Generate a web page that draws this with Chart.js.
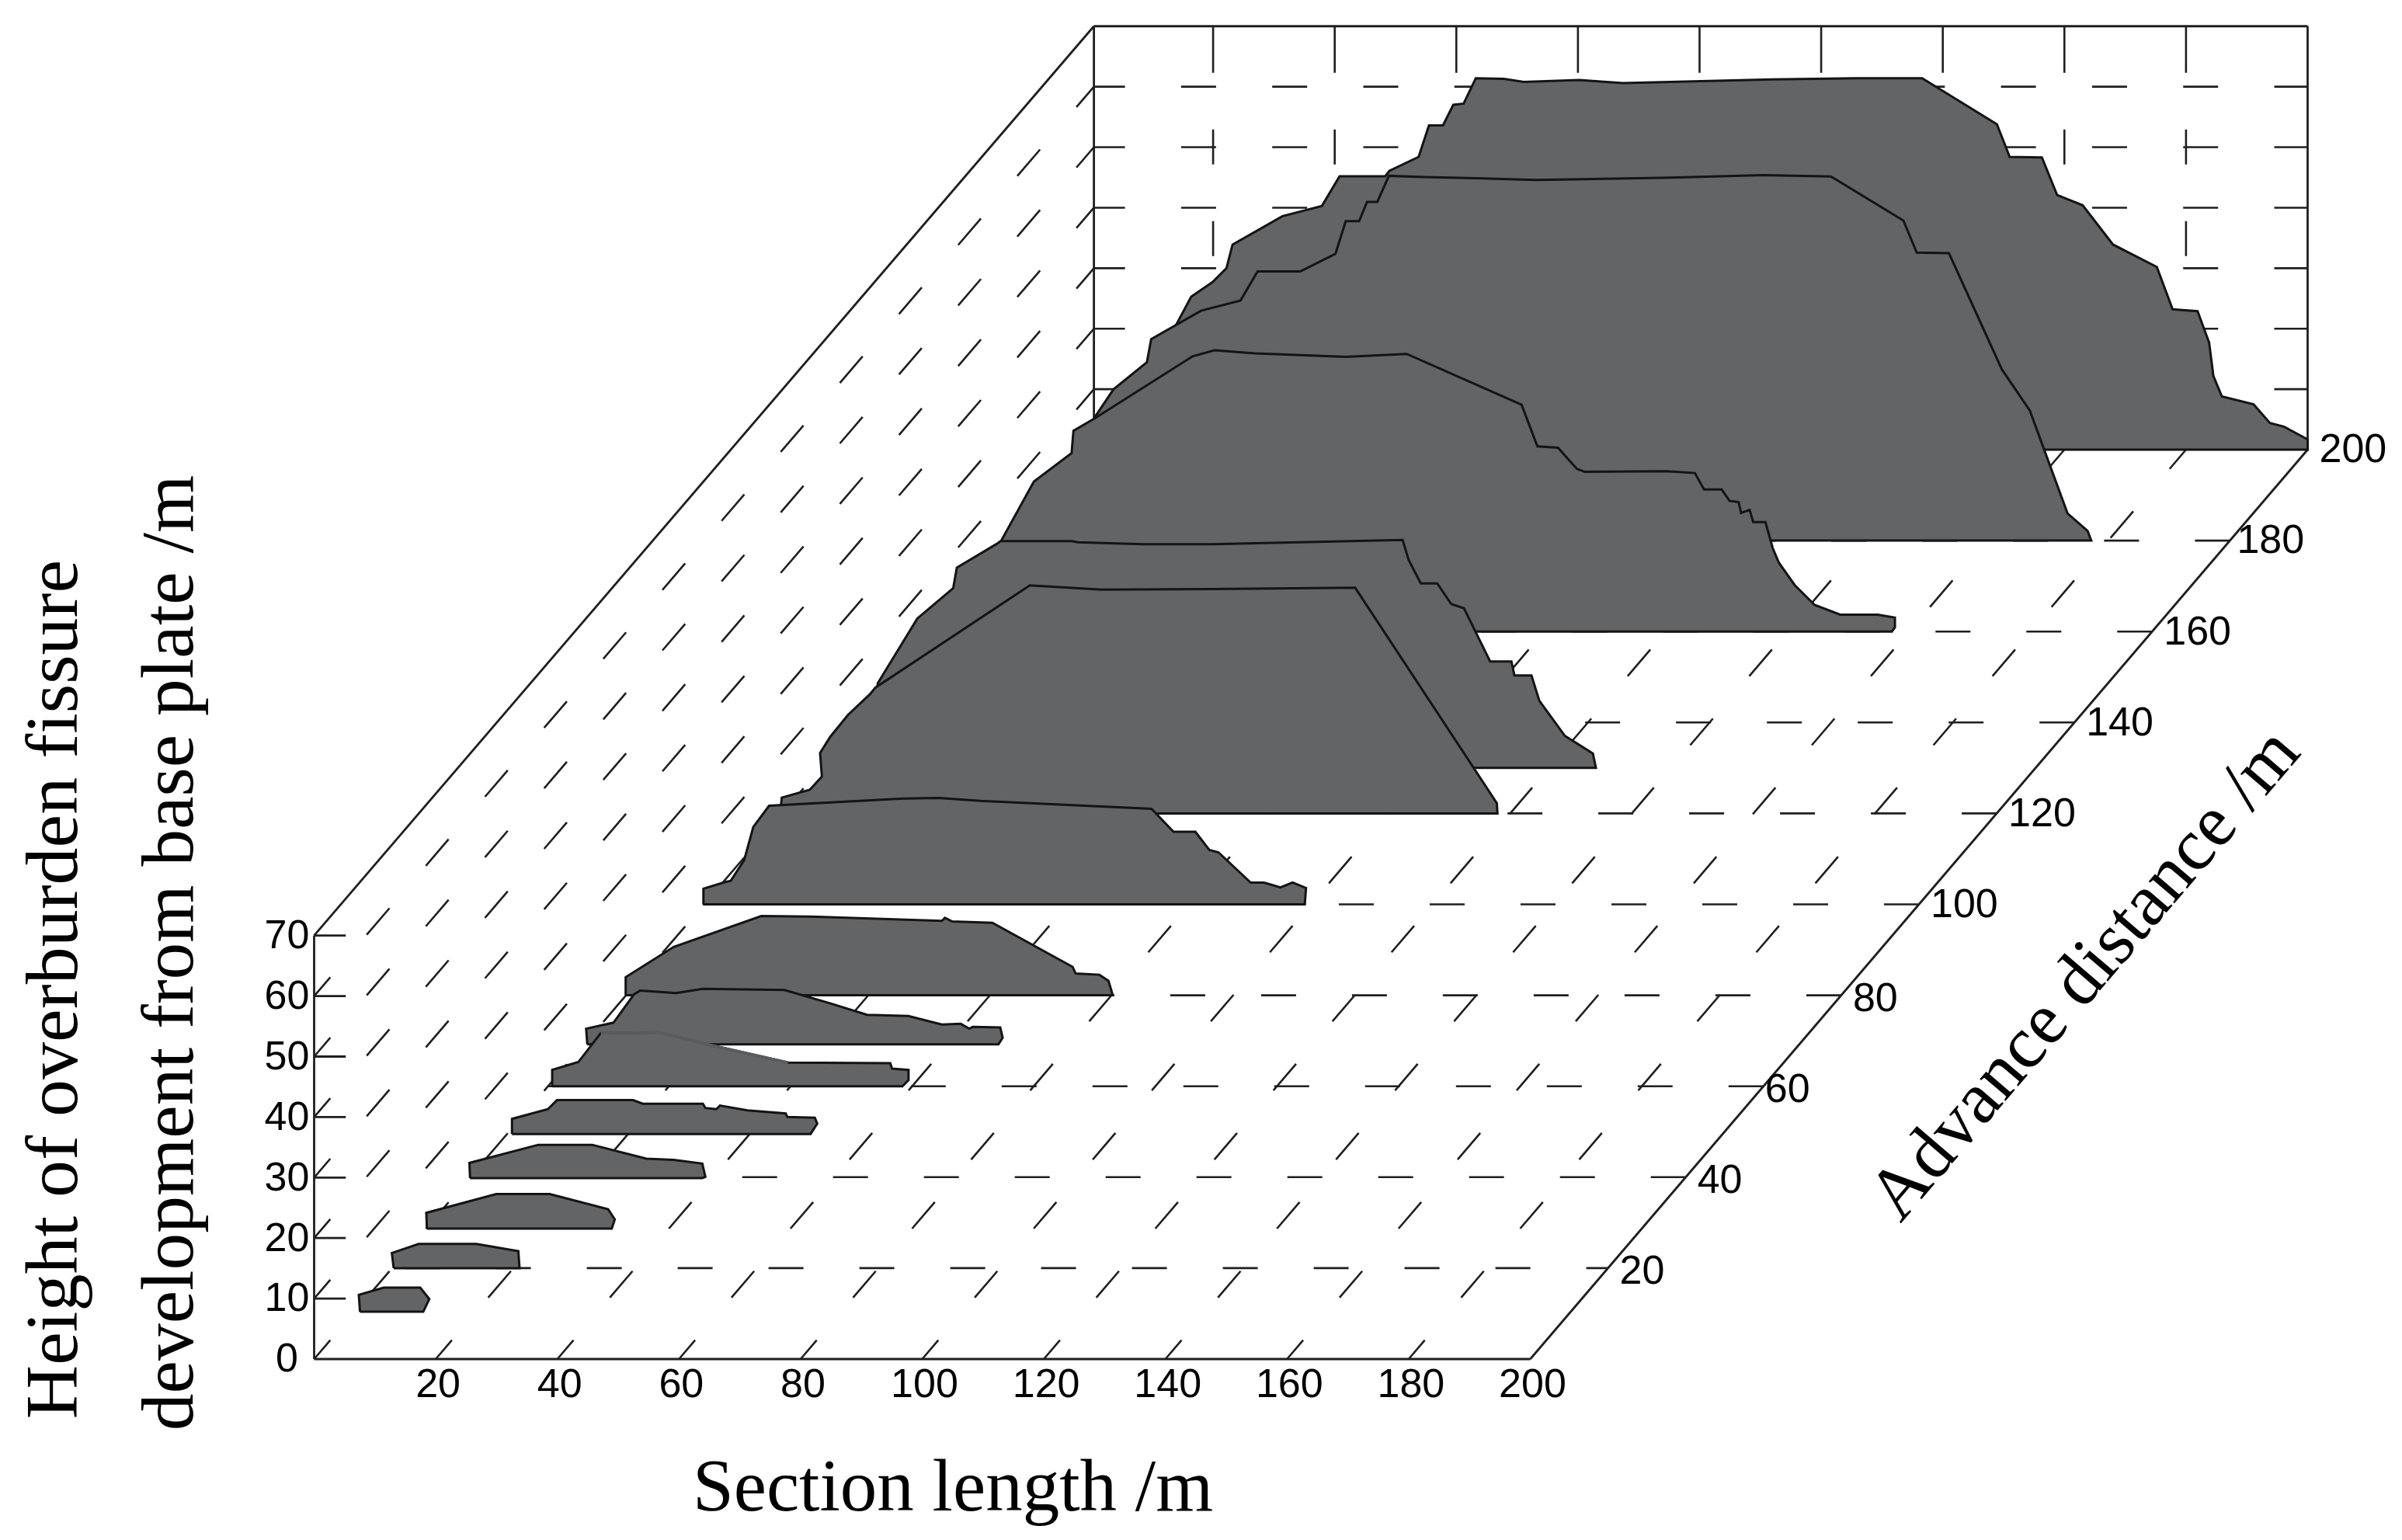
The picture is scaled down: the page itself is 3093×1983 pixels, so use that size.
<!DOCTYPE html>
<html>
<head>
<meta charset="utf-8">
<script src="https://cdn.jsdelivr.net/npm/chart.js@4"></script>
<style>
  body { margin: 0; background: #fff; }
  canvas { display: block; }
</style>
</head>
<body>
<canvas id="fissureChart" width="3093" height="1983"></canvas>
<script>
// tick labels
const sectionTicks = [20, 40, 60, 80, 100, 120, 140, 160, 180, 200];
const advanceTicks = [20, 40, 60, 80, 100, 120, 140, 160, 180, 200];
const heightTicks = [0, 10, 20, 30, 40, 50, 60, 70];

// one profile per advance distance, section length /m and fissure height /m
const s10 = [0.9, 0.7, 4.8, 10.8, 12.3, 11.3];
const h10 = [0, 2.8, 4, 4, 2.1, 0];
const s20 = [0.3, 0, 4.4, 13.9, 20.8, 21];
const h20 = [0, 2.5, 4, 4, 2.8, 0];
const s29 = [0.2, 0.1, 11.6, 20.4, 30, 31.1, 30.6];
const h29 = [0, 2.6, 5.7, 5.7, 3.2, 1.5, 0];
const s40 = [0.2, 0.1, 11.4, 20.3, 29.2, 33.7, 38.4, 38.9, 38.4];
const h40 = [0, 2.5, 5.5, 5.5, 3.2, 3, 2.4, 0.2, 0];
const s50 = [0.9, 0.9, 6.8, 8.3, 20.8, 22.4, 32.3, 32.7, 34.5, 35.1, 39.6, 45.9, 46.2, 50.7, 51.1, 50];
const h50 = [0, 2.5, 4.1, 5.6, 5.6, 5, 5, 4.3, 4.1, 4.7, 3.9, 3.4, 2.8, 2.7, 1.7, 0];
const s60 = [0.8, 0.8, 5.1, 8.8, 18.4, 27.3, 39.6, 56.4, 56.7, 59.4, 59.4, 58.4];
const h60 = [0, 2.7, 4, 8.8, 8.9, 6.7, 3.9, 3.8, 2.9, 2.7, 1, 0];
const s69 = [0.7, 0.5, 5, 8.4, 9.4, 15.3, 19.7, 33.1, 40.6, 46.7, 53.5, 59, 62.1, 63.5, 64.1, 68.6, 69, 68.3];
const h69 = [0, 2.6, 3.6, 8.3, 8.9, 8.5, 9.2, 9, 6.8, 4.9, 4.7, 3.3, 3.4, 2.6, 2.9, 2.8, 1.1, 0];
const s80 = [0.1, 0.1, 8, 22.4, 30.6, 52.1, 52.6, 53.8, 60.4, 73.6, 74.1, 78, 79.5, 80.2];
const h80 = [0, 3, 8, 13.1, 13, 12.3, 12.8, 12.2, 12, 4.7, 3.6, 3.4, 2.4, 0];
const s100 = [0.1, 0.1, 3.7, 4.6, 6.8, 8.3, 10.9, 33, 38.8, 45.7, 73.8, 77.4, 81, 83.3, 84.8, 90.1, 92.3, 95, 97, 99.2, 99];
const h100 = [0, 2.6, 3.7, 3.9, 7.3, 12.8, 16.3, 17.5, 17.6, 17.1, 15.8, 12, 12, 9, 8.6, 3.6, 3.6, 2.8, 3.6, 2.7, 0];
const s120 = [0, 0.1, 0.2, 4.8, 6.8, 6.5, 8.2, 11.1, 14.7, 15.6, 41, 52.8, 71, 94.5, 117.8, 117.9];
const h120 = [0, 1.6, 2.6, 3.9, 6.1, 10, 12.7, 16.3, 19.7, 20.8, 37.7, 37, 37.1, 37.3, 1.7, 0];
const s130 = [8, 9.6, 16.1, 22, 22.6, 29.1, 29.8, 41.5, 42.5, 53.2, 64.6, 95.9, 96.9, 98.9, 101.6, 103.9, 106, 110.3, 113.8, 114.3, 117.1, 118.4, 122.6, 127.2, 127.7];
const h130 = [0, 14, 24.7, 29.7, 33.1, 37, 37.5, 37.5, 37.3, 37, 37, 37.7, 34.4, 30.5, 30.5, 27.1, 26.4, 17.6, 17.6, 15.3, 15.3, 11.1, 5.3, 2.4, 0];
const s160 = [8, 10.6, 16.1, 22.3, 22.6, 26.2, 42.2, 45.8, 52.4, 67.4, 77.4, 96.3, 98.9, 102.3, 103.5, 105.4, 106.7, 120.1, 124.8, 126.3, 129.2, 130.5, 132, 132.4, 133.8, 134.4, 136.4, 137.6, 138.6, 141.2, 144.5, 148.7, 154.9, 157.7, 157.7, 157.2];
const h160 = [0, 14.8, 24.8, 29.5, 33.2, 35.3, 45.5, 46.5, 46, 45.4, 45.9, 37.5, 30.6, 30.4, 29, 26.9, 26.4, 26.5, 26.2, 23.5, 23.5, 21.6, 21.4, 19.6, 20.1, 18.1, 18.1, 13.8, 11.4, 7.7, 4.4, 2.8, 2.8, 2.3, 0.7, 0];
const s180 = [10, 13.4, 16.4, 21.9, 22.6, 30.8, 37.3, 40.1, 47.1, 52.9, 54.6, 56.8, 58.1, 59.8, 61.7, 67.6, 76.1, 85.8, 91.7, 107.9, 123.2, 134.4, 146.3, 148.5, 153.8, 162.5, 167.1, 173.3, 176.6, 177.2];
const h180 = [0, 20.5, 25, 29.5, 33.3, 38, 39.7, 44.5, 44.5, 47.4, 52.8, 52.8, 56, 56, 60.3, 60.1, 59.9, 59.6, 59.7, 60, 60.4, 60.2, 52.9, 47.6, 47.5, 28.3, 21.5, 4.5, 1.6, 0];
const s200 = [12, 13.8, 16.4, 19.9, 22.2, 23.2, 31.4, 37.9, 40.8, 48.3, 49, 53.8, 55.5, 57.8, 59.5, 61.2, 63.2, 67.8, 71.1, 80.2, 87.4, 95.1, 111.9, 125.8, 136.6, 148.9, 151, 156.3, 158.8, 163, 168, 175.2, 177.8, 181.9, 183.8, 184.5, 185.9, 191.1, 193.8, 196.1, 200, 200];
const h200 = [0, 20.4, 25.3, 27.7, 30, 33.9, 38.6, 40.3, 45.2, 45.2, 46.1, 48.4, 53.6, 53.6, 57, 57.2, 61.4, 61.3, 60.8, 61.1, 60.6, 60.8, 61.2, 61.4, 61.4, 53.8, 48.4, 48.3, 42.1, 40.4, 33.9, 30.2, 23.2, 22.9, 17.7, 12.2, 8.8, 7.5, 4.4, 3.8, 1.7, 0];

// front to back, the first one is painted last
const profiles = [
  { advance: 10.4, sections: s10, heights: h10 },
  { advance: 20, sections: s20, heights: h20 },
  { advance: 28.7, sections: s29, heights: h29 },
  { advance: 39.8, sections: s40, heights: h40 },
  { advance: 49.5, sections: s50, heights: h50 },
  { advance: 60, sections: s60, heights: h60 },
  { advance: 69.2, sections: s69, heights: h69 },
  { advance: 80, sections: s80, heights: h80 },
  { advance: 100, sections: s100, heights: h100 },
  { advance: 120, sections: s120, heights: h120 },
  { advance: 130, sections: s130, heights: h130 },
  { advance: 160, sections: s160, heights: h160 },
  { advance: 180, sections: s180, heights: h180 },
  { advance: 200, sections: s200, heights: h200 },
];

// oblique projection, the depth axis leans right and up
const depthX = 0.6392;
const depthY = 0.7516;
const project = (section, advance, height) => ({
  x: section + advance * depthX,
  y: height + advance * depthY,
});

const lineColor = '#1f1f1f';
const fillColor = '#636466';
const gridDash = [45, 72];
const backDash = [60, 73, 45, 73, 45, 73, 45, 73, 45, 73];
const backLeft = 0.4; // back wall starts a touch right of the section zero

const gridLine = (from, to, dash, offset) => ({
  data: [project(...from), project(...to)],
  borderColor: lineColor,
  borderWidth: dash ? 2.6 : 2.8,
  borderDash: dash || [],
  borderDashOffset: offset || 0,
  pointRadius: 0,
  showLine: true,
  order: 100,
});

const gridSets = [];
// left wall, height lines running back
heightTicks.slice(0, 7).forEach((h) => gridSets.push(gridLine([0, 0, h], [backLeft, 200, h], gridDash, 13)));
// floor, lines running back from the section axis
sectionTicks.slice(0, 9).forEach((s) => gridSets.push(gridLine([s, 0, 0], [s, 200, 0], gridDash, 13)));
// floor, lines across at each advance tick
advanceTicks.slice(0, 9).forEach((a) => gridSets.push(gridLine([0, a, 0], [200, a, 0], gridDash, a === 20 ? -17 : 0)));
// back wall
heightTicks.slice(1, 7).forEach((h) => gridSets.push(gridLine([backLeft, 200, h], [200, 200, h], [45, 72.3], 5)));
sectionTicks.slice(0, 9).forEach((s) => gridSets.push(gridLine([s, 200, 70], [s, 200, 0], backDash, 0)));
// short ticks on the height axis
heightTicks.slice(1).forEach((h) => gridSets.push(gridLine([0, 0, h], [5.2, 0, h])));
// frame
gridSets.push(gridLine([0, 0, 0], [200, 0, 0]));
gridSets.push(gridLine([0, 0, 0], [0, 0, 70]));
gridSets.push(gridLine([200, 0, 0], [200, 200, 0]));
gridSets.push(gridLine([0, 0, 70], [backLeft, 200, 70]));
gridSets.push(gridLine([backLeft, 200, 70], [200, 200, 70]));
gridSets.push(gridLine([backLeft, 200, 0], [backLeft, 200, 70]));
gridSets.push(gridLine([200, 200, 0], [200, 200, 70]));

const profileSets = profiles.map((p, i) => {
  const pts = p.sections.map((s, k) => project(s, p.advance, p.heights[k]));
  pts.push(pts[0]); // back along the floor to close the outline
  return {
    label: 'Advance ' + p.advance + ' m',
    data: pts,
    showLine: true,
    fill: 'shape',
    backgroundColor: fillColor,
    borderColor: '#141414',
    borderWidth: 3,
    pointRadius: 0,
    tension: 0,
    order: i + 1,
  };
});

// the 60 m outline almost fades out on its top right flank
const fadedFlank = {
  data: s60.slice(3, 7).map((s, k) => project(s, 60, h60[k + 3])),
  showLine: true,
  borderColor: '#5b5c5e',
  borderWidth: 3.6,
  pointRadius: 0,
  order: 5.5,
};

const textPlugin = {
  id: 'axisText',
  afterDraw(chart) {
    const { ctx, scales } = chart;
    const px = (s, a, h) => {
      const p = project(s, a, h);
      return [scales.x.getPixelForValue(p.x), scales.y.getPixelForValue(p.y)];
    };
    ctx.save();
    ctx.fillStyle = '#000';
    ctx.textBaseline = 'middle';
    ctx.font = '52px "Liberation Sans"';
    ctx.textAlign = 'center';
    sectionTicks.forEach((s) => {
      const [x, y] = px(s, 0, 0);
      ctx.fillText(String(s), x + 3, y + 35);
    });
    heightTicks.forEach((h) => {
      const [x, y] = px(0, 0, h);
      ctx.fillText(String(h), x - 35, y + 2);
    });
    ctx.textAlign = 'left';
    advanceTicks.forEach((a) => {
      const [x, y] = px(200, a, 0);
      const dx = a === 60 ? 2 : a === 180 ? 9 : 15;
      ctx.fillText(String(a), x + dx, y + (a <= 80 ? 6 : 2));
    });

    ctx.font = '95px "Liberation Serif"';
    ctx.textAlign = 'center';
    ctx.fillText('Section length /m', 1227, 1920);
    const rotated = (text, x, y, angle) => {
      ctx.save();
      ctx.translate(x, y);
      ctx.rotate(angle);
      ctx.fillText(text, 0, 0);
      ctx.restore();
    };
    ctx.font = '96px "Liberation Serif"';
    rotated('Height of overburden fissure', 74, 1274, -Math.PI / 2);
    ctx.font = '95.5px "Liberation Serif"';
    rotated('development from base plate /m', 223, 1227, -Math.PI / 2);
    ctx.font = '95px "Liberation Serif"';
    rotated('Advance distance /m', 2687, 1257, -49.5 * Math.PI / 180);
    ctx.restore();
  },
};

new Chart(document.getElementById('fissureChart'), {
  type: 'scatter',
  data: { datasets: [...profileSets, fadedFlank, ...gridSets] },
  options: {
    responsive: false,
    animation: false,
    layout: { padding: 0 },
    plugins: { legend: { display: false }, tooltip: { enabled: false } },
    scales: {
      x: { type: 'linear', display: false, min: -51.66, max: 343.36 },
      y: { type: 'linear', display: false, min: -29.91, max: 224.65 },
    },
  },
  plugins: [textPlugin],
});
</script>
</body>
</html>
